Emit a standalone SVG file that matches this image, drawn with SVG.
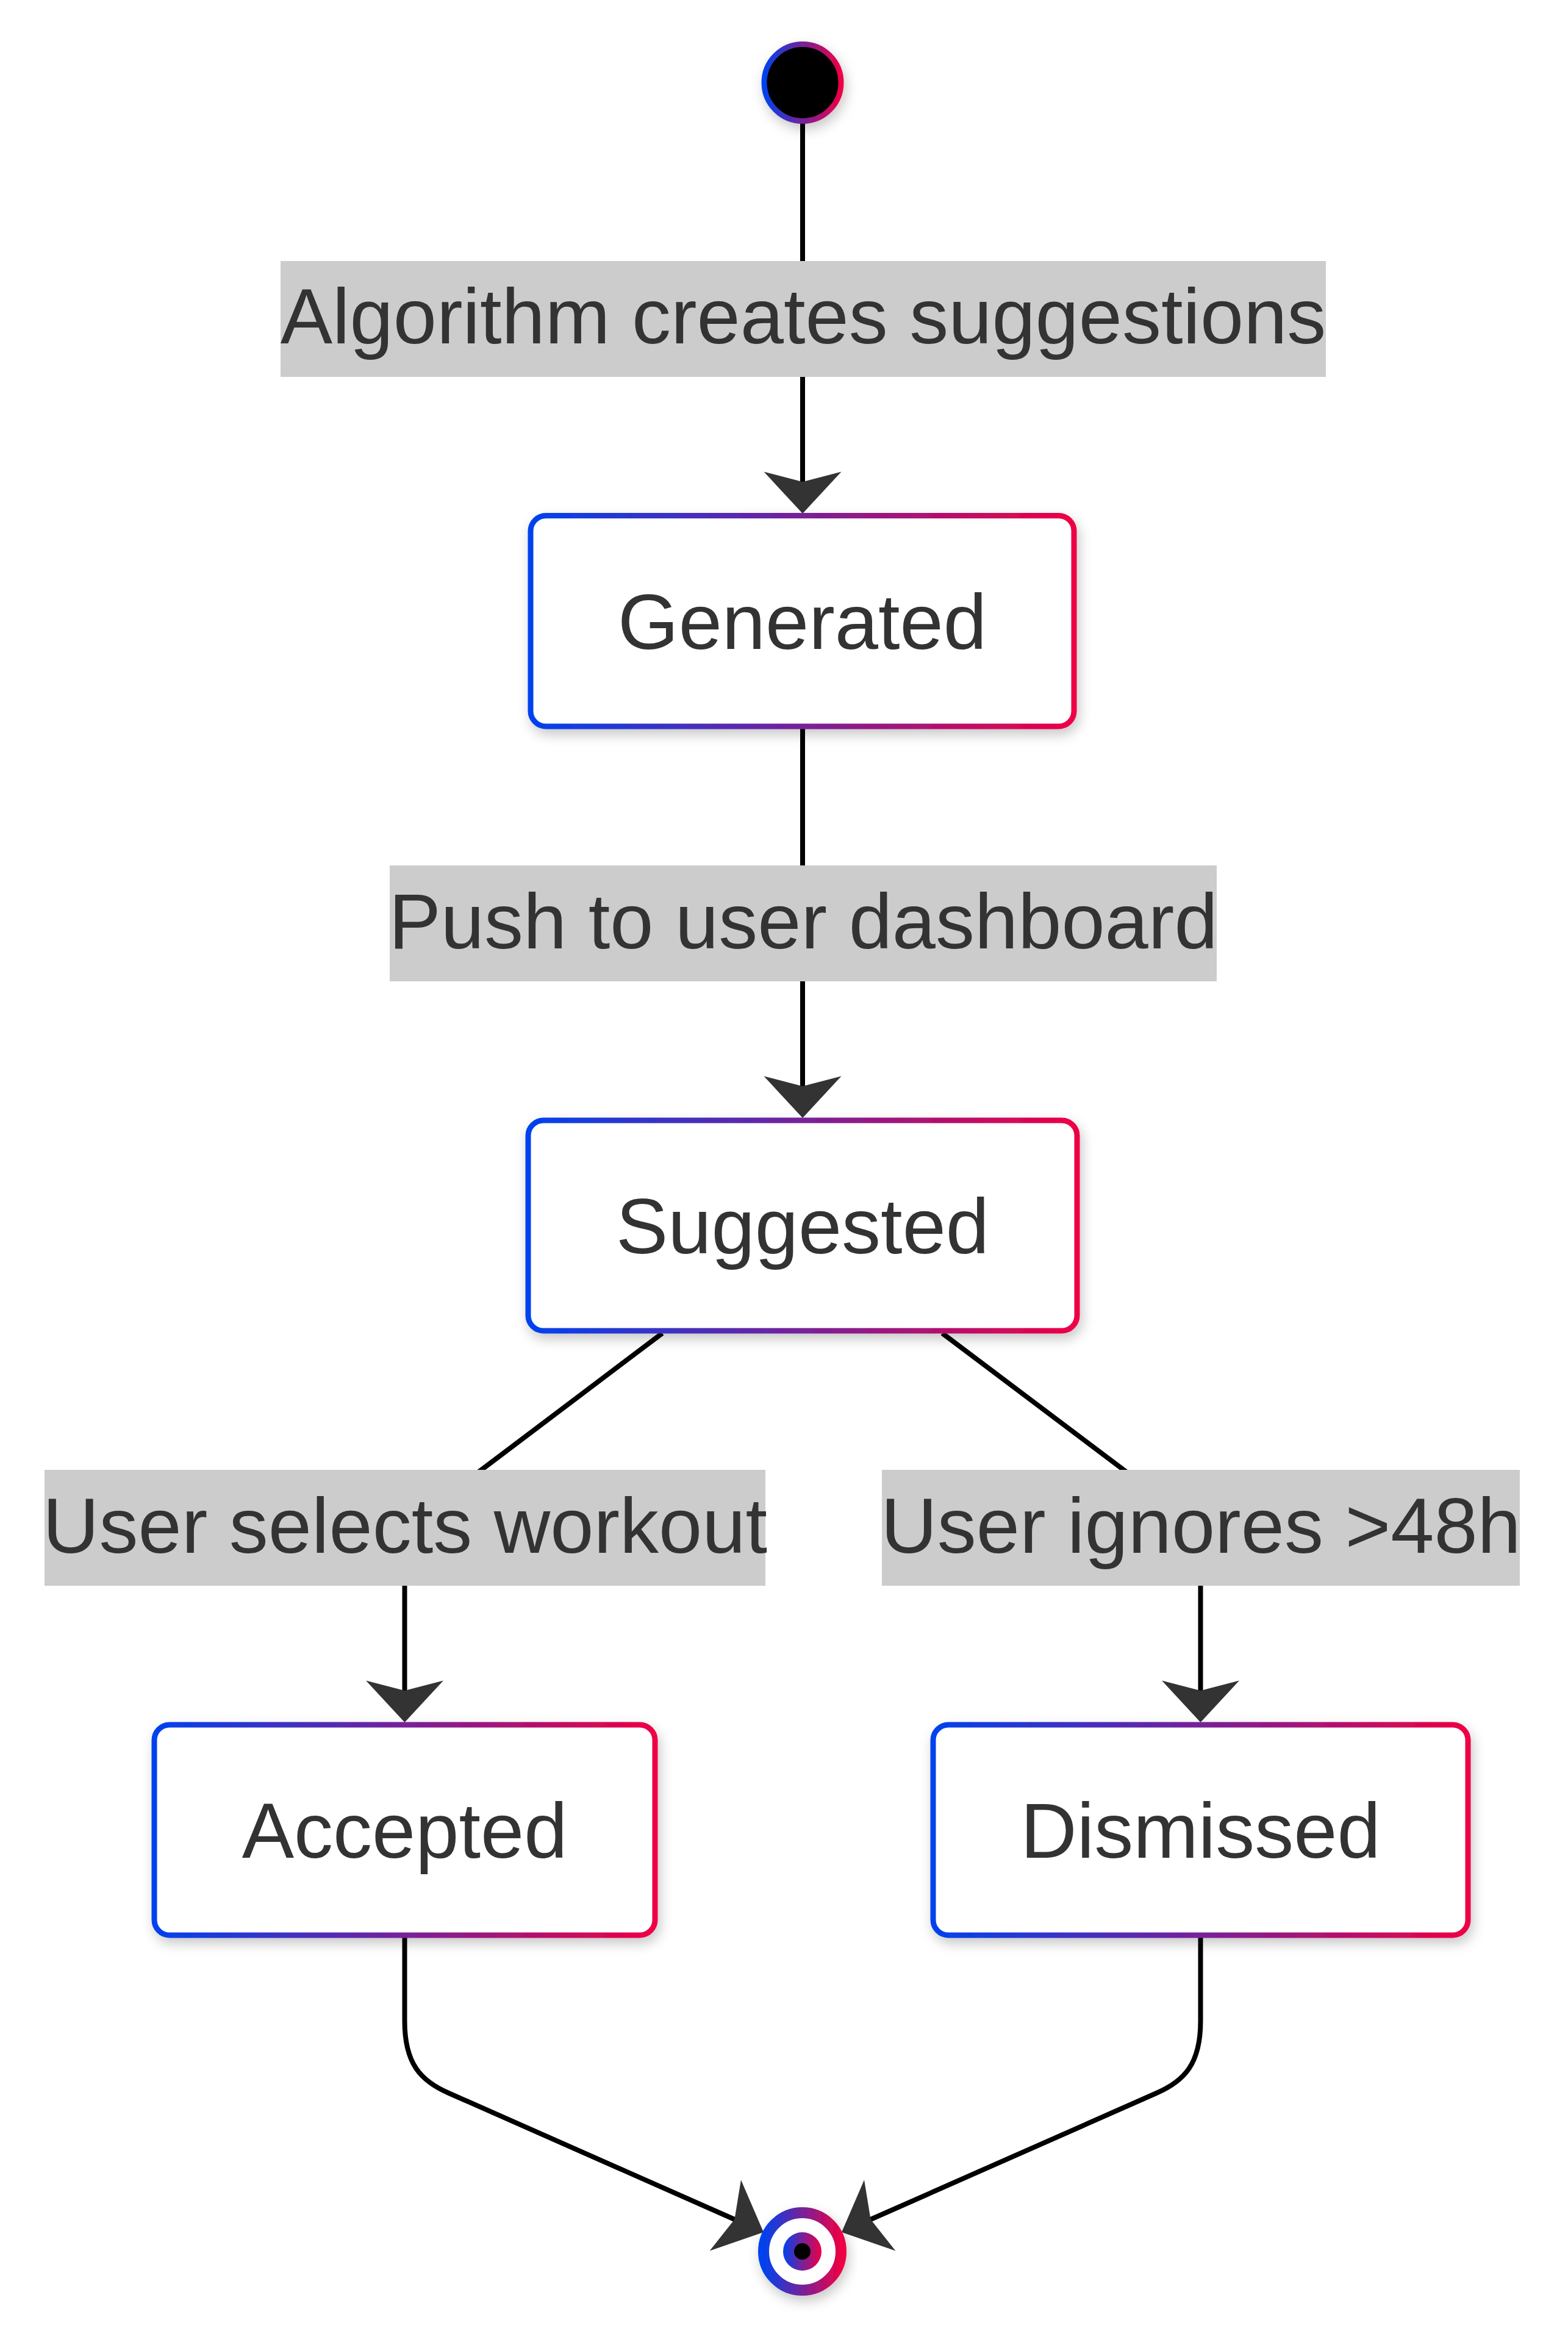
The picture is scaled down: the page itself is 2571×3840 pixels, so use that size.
<svg xmlns="http://www.w3.org/2000/svg" width="2571" height="3840" viewBox="0 0 2571 3840">
<style>
.node rect{fill:#ffffff;stroke:url(#grad);stroke-width:9;filter:url(#shadow)}
.ntext{font-family:"Liberation Sans",Arial,sans-serif;font-size:128px;fill:#333333;text-anchor:middle}
.elabel rect{fill:#cccccc}
.edge{fill:none;stroke:#000000;stroke-width:8}
</style>
<defs>
<linearGradient id="grad" x1="0" y1="0" x2="1" y2="0">
<stop offset="0" stop-color="#0042ee"/>
<stop offset="1" stop-color="#ee0044"/>
</linearGradient>
<filter id="shadow" x="-20%" y="-20%" width="140%" height="150%">
<feDropShadow dx="4" dy="9" stdDeviation="10" flood-color="#000000" flood-opacity="0.22"/>
</filter>
<marker id="barb" markerUnits="userSpaceOnUse" viewBox="-20 -70 80 140" refX="0" refY="0" markerWidth="80" markerHeight="140" orient="auto">
<path d="M52,0 L-16.5,63.5 L0,0 L-16.5,-63.5 Z" fill="#333333"/>
</marker>
</defs>
<rect x="0" y="0" width="2571" height="3840" fill="#ffffff"/>

<g id="connectors">
<path class="edge" d="M1316,200 L1316,790" marker-end="url(#barb)"/>
<path class="edge" d="M1316,1195 L1316,1781" marker-end="url(#barb)"/>
<path class="edge" d="M1086,2186 L663.5,2505 L663.5,2772" marker-end="url(#barb)"/>
<path class="edge" d="M1545,2186 L1968.5,2505 L1968.5,2772" marker-end="url(#barb)"/>
<path class="edge" d="M663.5,3177 L663.5,3314 C663.5,3384 690,3412 736,3432 L1204.4,3639" marker-end="url(#barb)"/>
<path class="edge" d="M1968.5,3177 L1968.5,3314 C1968.5,3384 1942,3412 1896,3432 L1427.6,3639" marker-end="url(#barb)"/>
</g>

<g id="edge-labels">
<g class="elabel" id="label-algorithm">
<rect x="460" y="428" width="1714" height="190"/>
<text class="ntext" x="1317" y="563">Algorithm creates suggestions</text>
</g>
<g class="elabel" id="label-push">
<rect x="639" y="1419" width="1356" height="190"/>
<text class="ntext" x="1317" y="1555">Push to user dashboard</text>
</g>
<g class="elabel" id="label-selects">
<rect x="73" y="2410" width="1182" height="190"/>
<text class="ntext" x="664" y="2546">User selects workout</text>
</g>
<g class="elabel" id="label-ignores">
<rect x="1446" y="2410" width="1046" height="190"/>
<text class="ntext" x="1969" y="2546">User ignores &gt;48h</text>
</g>
</g>

<g id="start">
<circle cx="1316" cy="135.5" r="63" fill="#000000" stroke="url(#grad)" stroke-width="9" filter="url(#shadow)"/>
</g>

<g id="Generated" class="node">
<rect x="870" y="845.5" width="891" height="345.5" rx="25" ry="25"/>
<text class="ntext" x="1315.5" y="1064">Generated</text>
</g>

<g id="Suggested" class="node">
<rect x="866" y="1837" width="900" height="345" rx="25" ry="25"/>
<text class="ntext" x="1316" y="2055">Suggested</text>
</g>

<g id="Accepted" class="node">
<rect x="253" y="2828" width="821" height="345" rx="25" ry="25"/>
<text class="ntext" x="663.5" y="3046">Accepted</text>
</g>

<g id="Dismissed" class="node">
<rect x="1530" y="2828" width="877" height="345" rx="25" ry="25"/>
<text class="ntext" x="1968.5" y="3046">Dismissed</text>
</g>

<g id="end">
<circle cx="1315.5" cy="3691.5" r="63.5" fill="#ffffff" stroke="url(#grad)" stroke-width="18" filter="url(#shadow)"/>
<circle cx="1315.5" cy="3691.5" r="31.5" fill="url(#grad)"/>
<circle cx="1315.5" cy="3691.5" r="13.5" fill="#000000"/>
</g>
</svg>
